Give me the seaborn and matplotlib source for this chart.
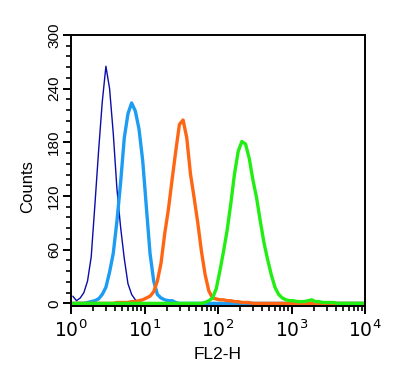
import numpy as np
import pandas as pd
import matplotlib
matplotlib.use('Agg')
import matplotlib.pyplot as plt
from matplotlib.ticker import LogLocator, MultipleLocator, NullFormatter
import seaborn as sns

# Histogram channels: 80 bins over 4 decades (bin width 0.05 decade)
n_bins = 80
bin_log = np.arange(n_bins) * 0.05 + 0.025

# Counts per bin, each series starts at the given bin index
dark_start = 0
dark_counts = [8, 3, 6, 12, 25, 52, 110, 170, 225, 265, 240, 190, 128, 85,
               50, 22, 10, 4, 1]

light_start = 4
light_counts = [1, 2, 3, 5, 10, 18, 35, 56, 92, 135, 185, 212, 224, 215, 195,
                160, 108, 56, 25, 10, 6, 4, 3, 3, 1]

orange_start = 12
orange_counts = [1, 1, 1, 1, 2, 2, 3, 4, 6, 8, 13, 25, 45, 78, 105, 138, 170,
                 200, 205, 185, 145, 118, 90, 58, 32, 14, 6, 5, 4, 4, 3, 3, 2,
                 2, 1, 1, 1]

green_start = 36
green_counts = [1, 3, 6, 16, 36, 58, 82, 112, 145, 170, 181, 178, 162, 138,
                118, 92, 68, 49, 32, 18, 10, 6, 4, 3, 3, 2, 2, 2, 3, 4, 2, 2,
                1, 1, 1, 1]

series = [
    ('isotype', dark_start, dark_counts, '#0c0ca8', 1.0),
    ('blank', light_start, light_counts, '#1c9cf2', 2.4),
    ('sample1', orange_start, orange_counts, '#ff6614', 2.4),
    ('sample2', green_start, green_counts, '#22ee14', 2.4),
]


def full_hist(start, counts):
    y = np.zeros(n_bins)
    y[start:start + len(counts)] = counts
    return y


fig = plt.figure(figsize=(4.0, 3.76), dpi=100)
sns.set_style('ticks')
plt.rcParams['font.family'] = ['Liberation Sans', 'DejaVu Sans']
ax = fig.add_axes([0.1775, 0.186, 0.735, 0.721])

for name, start, counts, color, lw in series:
    df = pd.DataFrame({'FL2-H': 10 ** bin_log, 'Counts': full_hist(start, counts)})
    sns.lineplot(data=df, x='FL2-H', y='Counts', ax=ax, color=color,
                 linewidth=lw, estimator=None)

ax.set_xscale('log')
ax.set_xlim(1, 1e4)
ax.set_ylim(-3, 300)
ax.set_xticks([1, 10, 100, 1000, 10000])
ax.set_xticklabels(['$10^0$', '$10^1$', '$10^2$', '$10^3$', '$10^4$'],
                   fontsize=13.5, color='black')
ax.xaxis.set_minor_locator(LogLocator(base=10, subs=np.arange(2, 10)))
ax.xaxis.set_minor_formatter(NullFormatter())
ax.set_yticks([0, 60, 120, 180, 240, 300])
ax.yaxis.set_minor_locator(MultipleLocator(12))
for lab in ax.get_yticklabels():
    lab.set_rotation(90)
    lab.set_va('center')
    lab.set_fontsize(11)
    lab.set_color('black')

ax.tick_params(which='major', direction='out', length=6, width=1.4,
               color='black')
ax.tick_params(axis='x', which='major', pad=4)
ax.tick_params(axis='y', which='major', pad=1)
ax.tick_params(which='minor', direction='out', length=3.5, width=1.2,
               color='black')
for sp in ax.spines.values():
    sp.set_visible(True)
    sp.set_linewidth(1.4)
    sp.set_color('black')

ax.set_xlabel('FL2-H', fontsize=12.5, labelpad=4, color='black')
ax.set_ylabel('Counts', fontsize=12, color='black')
ax.yaxis.set_label_coords(-0.122, 0.44)

fig.savefig('out.png', dpi=100)
